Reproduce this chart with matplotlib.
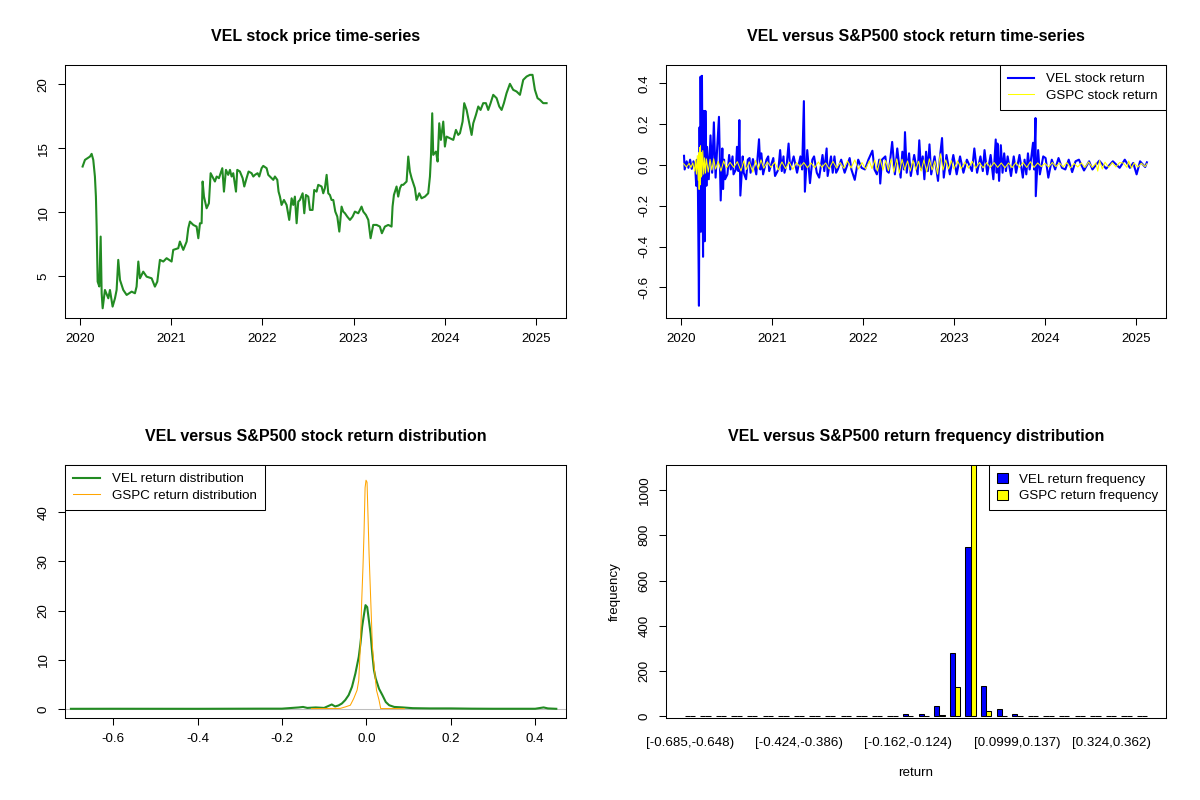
import numpy as np
import matplotlib
matplotlib.use('Agg')
import matplotlib.pyplot as plt
from matplotlib.patches import Patch

plt.rcParams['font.family'] = ['Liberation Sans', 'DejaVu Sans']
plt.rcParams['axes.unicode_minus'] = False
plt.rcParams['axes.linewidth'] = 0.75

# ---- VEL price (years since 2020, price) ----
price_t = [0.029, 0.055, 0.110, 0.128, 0.146, 0.164, 0.175, 0.183, 0.194, 0.212,
           0.227, 0.238, 0.249, 0.274, 0.311, 0.329, 0.358, 0.384, 0.402, 0.420,
           0.439, 0.475, 0.512, 0.567, 0.603, 0.621, 0.640, 0.658, 0.694, 0.731,
           0.786, 0.822, 0.848, 0.877, 0.914, 0.950, 1.005, 1.023, 1.078, 1.096,
           1.133, 1.170, 1.188, 1.206, 1.243, 1.279, 1.298, 1.316, 1.334, 1.345,
           1.360, 1.389, 1.414, 1.433, 1.462, 1.480, 1.499, 1.524, 1.542, 1.561,
           1.579, 1.601, 1.626, 1.645, 1.663, 1.681, 1.711, 1.725, 1.754, 1.784,
           1.802, 1.827, 1.849, 1.882, 1.901, 1.919, 1.948, 1.966, 1.992, 2.010,
           2.047, 2.065, 2.102, 2.120, 2.138, 2.164, 2.178, 2.193, 2.211, 2.237,
           2.266, 2.295, 2.321, 2.339, 2.357, 2.376, 2.394, 2.412, 2.442, 2.460,
           2.478, 2.504, 2.522, 2.551, 2.569, 2.595, 2.613, 2.650, 2.668, 2.686,
           2.705, 2.723, 2.741, 2.759, 2.778, 2.800, 2.822, 2.844, 2.869, 2.887,
           2.906, 2.931, 2.961, 2.990, 3.015, 3.052, 3.088, 3.107, 3.136, 3.162,
           3.187, 3.216, 3.253, 3.289, 3.311, 3.344, 3.381, 3.417, 3.428, 3.443,
           3.472, 3.490, 3.509, 3.527, 3.545, 3.582, 3.600, 3.618, 3.637, 3.655,
           3.673, 3.691, 3.721, 3.746, 3.783, 3.819, 3.838, 3.849, 3.863, 3.874,
           3.904, 3.922, 3.940, 3.958, 3.984, 4.002, 4.020, 4.057, 4.094, 4.123,
           4.148, 4.167, 4.196, 4.214, 4.240, 4.269, 4.295, 4.313, 4.342, 4.368,
           4.393, 4.422, 4.452, 4.477, 4.503, 4.532, 4.569, 4.598, 4.624, 4.649,
           4.678, 4.715, 4.751, 4.788, 4.825, 4.861, 4.898, 4.934, 4.963, 4.989,
           5.018, 5.044, 5.080, 5.117]
price_val = [13.57, 14.09, 14.35, 14.56, 14.09, 12.79, 11.22, 8.88, 4.58, 4.20,
             8.10, 3.67, 2.50, 3.93, 3.28, 3.93, 2.63, 3.28, 3.93, 6.28,
             4.71, 3.93, 3.54, 3.80, 3.67, 4.19, 6.15, 4.84, 5.36, 4.97,
             4.84, 4.19, 4.58, 6.28, 6.15, 6.41, 6.15, 7.06, 7.19, 7.71,
             7.06, 7.71, 8.75, 9.27, 9.01, 8.88, 7.97, 9.14, 9.14, 12.40,
             11.22, 10.31, 10.70, 13.05, 12.66, 12.40, 12.79, 12.66, 13.05, 13.44,
             11.61, 13.31, 12.92, 13.31, 12.79, 13.05, 11.61, 13.31, 13.18, 12.66,
             12.01, 12.66, 13.18, 13.05, 12.79, 12.92, 13.05, 12.79, 13.44, 13.62,
             13.44, 12.92, 12.66, 12.53, 12.79, 12.53, 11.61, 11.22, 10.57, 10.96,
             10.57, 9.40, 11.09, 10.57, 11.22, 9.14, 10.83, 10.96, 11.48, 9.92,
             11.35, 11.22, 10.18, 10.18, 11.74, 11.61, 12.14, 12.01, 11.48, 11.88,
             12.92, 11.48, 11.35, 10.96, 10.96, 10.05, 9.66, 8.49, 10.44, 10.05,
             9.92, 9.66, 9.40, 9.66, 10.05, 9.92, 10.44, 10.05, 9.79, 9.40,
             7.97, 9.01, 9.01, 8.88, 8.36, 8.88, 9.01, 8.88, 10.44, 11.35,
             12.01, 11.22, 11.88, 12.14, 12.14, 12.40, 14.35, 13.18, 12.66, 12.27,
             11.88, 10.96, 11.48, 11.09, 11.22, 11.48, 12.79, 14.35, 17.73, 14.48,
             14.74, 13.96, 16.95, 15.65, 17.08, 15.13, 15.91, 15.78, 15.65, 16.43,
             16.04, 16.17, 17.08, 18.52, 17.99, 16.95, 16.04, 16.95, 17.60, 18.26,
             17.99, 18.52, 18.52, 17.99, 18.52, 19.17, 18.91, 18.26, 17.99, 18.52,
             19.30, 20.03, 19.56, 19.43, 19.17, 20.34, 20.60, 20.73, 20.73, 19.56,
             18.91, 18.78, 18.52, 18.52]

# ---- VEL daily return (years since 2020, return) ----
vel_ret_t = [0.034, 0.041, 0.063, 0.082, 0.101, 0.119, 0.138, 0.157, 0.168, 0.179,
             0.187, 0.198, 0.205, 0.213, 0.216, 0.224, 0.231, 0.243, 0.250, 0.261,
             0.269, 0.280, 0.287, 0.306, 0.325, 0.343, 0.362, 0.381, 0.399, 0.418,
             0.437, 0.455, 0.463, 0.474, 0.485, 0.511, 0.530, 0.548, 0.567, 0.578,
             0.604, 0.616, 0.631, 0.642, 0.653, 0.679, 0.690, 0.716, 0.735, 0.754,
             0.765, 0.791, 0.828, 0.858, 0.873, 0.884, 0.903, 0.940, 0.959, 0.970,
             1.015, 1.034, 1.071, 1.090, 1.108, 1.127, 1.138, 1.164, 1.183, 1.201,
             1.239, 1.276, 1.313, 1.332, 1.351, 1.362, 1.388, 1.418, 1.444, 1.463,
             1.493, 1.519, 1.556, 1.575, 1.601, 1.612, 1.649, 1.668, 1.687, 1.705,
             1.724, 1.761, 1.799, 1.854, 1.873, 1.910, 1.948, 1.985, 2.022, 2.060,
             2.104, 2.127, 2.153, 2.179, 2.190, 2.209, 2.246, 2.265, 2.284, 2.321,
             2.351, 2.377, 2.414, 2.433, 2.451, 2.462, 2.481, 2.507, 2.526, 2.563,
             2.601, 2.619, 2.638, 2.657, 2.675, 2.694, 2.713, 2.731, 2.750, 2.787,
             2.825, 2.843, 2.869, 2.888, 2.918, 2.955, 2.993, 3.030, 3.067, 3.104,
             3.142, 3.198, 3.224, 3.254, 3.291, 3.317, 3.336, 3.366, 3.403, 3.433,
             3.459, 3.470, 3.478, 3.496, 3.515, 3.534, 3.552, 3.571, 3.590, 3.627,
             3.657, 3.683, 3.720, 3.757, 3.776, 3.795, 3.813, 3.832, 3.851, 3.869,
             3.881, 3.896, 3.899, 3.925, 3.944, 3.981, 4.007, 4.037, 4.075, 4.112,
             4.149, 4.187, 4.224, 4.261, 4.299, 4.336, 4.373, 4.429, 4.485, 4.522,
             4.597, 4.672, 4.746, 4.821, 4.877, 4.933, 4.970, 5.007, 5.045, 5.101,
             5.120]
vel_ret = [0.045, -0.022, 0.018, -0.014, 0.026, -0.019, 0.018, -0.010, -0.102, 0.026,
           -0.126, -0.690, 0.185, -0.326, 0.433, -0.326, 0.437, -0.450, 0.265, -0.374,
           0.265, -0.102, 0.089, -0.070, 0.145, -0.038, 0.209, -0.062, 0.089, 0.236,
           -0.174, 0.081, -0.118, 0.026, -0.070, -0.046, 0.049, -0.022, 0.042, -0.046,
           -0.022, 0.089, -0.030, 0.220, -0.150, 0.042, -0.038, -0.070, 0.026, 0.034,
           -0.038, 0.029, -0.046, 0.126, -0.022, 0.057, -0.046, 0.026, 0.042, -0.030,
           0.034, -0.054, -0.022, 0.073, -0.030, 0.042, -0.038, 0.010, 0.105, -0.022,
           0.042, -0.038, 0.042, -0.022, 0.313, -0.131, 0.073, -0.089, 0.026, 0.042,
           -0.038, -0.062, 0.049, -0.030, 0.081, -0.054, 0.042, -0.038, 0.042, -0.038,
           -0.022, 0.026, -0.038, 0.034, -0.022, -0.073, 0.026, -0.014, -0.022, 0.026,
           0.070, -0.022, -0.046, 0.026, -0.091, 0.026, 0.042, -0.030, -0.038, 0.113,
           -0.046, 0.081, -0.062, 0.065, -0.022, 0.161, -0.038, 0.057, -0.054, 0.049,
           -0.046, 0.121, -0.022, 0.042, -0.070, 0.065, -0.030, 0.101, -0.046, 0.042,
           -0.078, 0.026, 0.132, -0.062, 0.049, -0.046, 0.049, -0.046, 0.042, -0.038,
           0.026, -0.030, 0.081, -0.038, 0.042, -0.030, 0.073, -0.046, 0.049, -0.070,
           0.125, -0.038, 0.105, -0.078, 0.097, -0.038, 0.057, -0.030, 0.042, -0.054,
           0.042, -0.038, 0.049, -0.062, 0.026, -0.046, 0.057, -0.022, 0.042, 0.109,
           -0.022, 0.230, -0.153, 0.073, -0.046, 0.042, 0.034, -0.062, 0.026, -0.022,
           0.034, -0.014, -0.022, 0.026, -0.035, 0.018, 0.026, -0.027, 0.018, -0.022,
           0.021, -0.018, 0.018, -0.014, 0.026, -0.014, 0.010, -0.046, 0.018, -0.010,
           0.013]

# ---- S&P500 (GSPC) daily return ----
gspc_ret_t = [0.030, 0.060, 0.090, 0.110, 0.130, 0.150, 0.160, 0.170, 0.180, 0.190,
              0.195, 0.200, 0.205, 0.210, 0.215, 0.220, 0.225, 0.230, 0.240, 0.250,
              0.260, 0.270, 0.280, 0.300, 0.320, 0.340, 0.360, 0.380, 0.410, 0.440,
              0.470, 0.500, 0.540, 0.580, 0.620, 0.660, 0.690, 0.720, 0.750, 0.790,
              0.820, 0.850, 0.880, 0.910, 0.950, 0.990, 1.030, 1.070, 1.110, 1.150,
              1.190, 1.230, 1.270, 1.310, 1.350, 1.390, 1.430, 1.470, 1.510, 1.550,
              1.590, 1.630, 1.670, 1.710, 1.750, 1.790, 1.830, 1.870, 1.910, 1.950,
              1.990, 2.030, 2.070, 2.100, 2.130, 2.160, 2.190, 2.220, 2.250, 2.280,
              2.310, 2.340, 2.370, 2.400, 2.430, 2.460, 2.490, 2.520, 2.550, 2.580,
              2.610, 2.640, 2.670, 2.700, 2.730, 2.760, 2.790, 2.820, 2.850, 2.880,
              2.910, 2.940, 2.970, 3.000, 3.040, 3.080, 3.120, 3.160, 3.200, 3.240,
              3.280, 3.320, 3.360, 3.400, 3.440, 3.480, 3.520, 3.560, 3.600, 3.640,
              3.680, 3.720, 3.760, 3.800, 3.840, 3.880, 3.920, 3.960, 4.000, 4.040,
              4.080, 4.120, 4.160, 4.200, 4.240, 4.280, 4.320, 4.360, 4.400, 4.440,
              4.480, 4.520, 4.560, 4.580, 4.600, 4.630, 4.660, 4.700, 4.740, 4.780,
              4.820, 4.860, 4.900, 4.920, 4.950, 4.980, 5.020, 5.060, 5.100, 5.120]
gspc_ret = [0.006, -0.010, 0.008, -0.012, 0.010, -0.030, 0.025, -0.045, 0.046, -0.075,
            0.060, -0.120, 0.086, -0.098, 0.094, -0.060, 0.062, -0.052, 0.070, -0.045,
            0.035, -0.040, 0.030, -0.035, 0.028, -0.025, 0.030, -0.020, 0.018, -0.030,
            0.020, -0.015, 0.013, -0.012, 0.016, -0.030, 0.020, -0.022, 0.016, -0.035,
            0.022, -0.020, 0.025, -0.016, 0.015, -0.012, 0.014, -0.025, 0.015, -0.018,
            0.014, -0.022, 0.012, -0.010, 0.012, -0.014, 0.010, -0.014, 0.015, -0.012,
            0.010, -0.020, 0.018, -0.015, 0.012, -0.016, 0.020, -0.015, 0.025, -0.020,
            0.012, -0.020, 0.020, -0.018, 0.025, -0.030, 0.030, -0.025, 0.022, -0.028,
            0.030, -0.035, 0.030, -0.040, 0.028, -0.025, 0.020, -0.030, 0.022, -0.025,
            0.018, -0.030, 0.025, -0.035, 0.030, -0.025, 0.020, -0.045, 0.055, -0.025,
            0.025, -0.020, 0.022, -0.020, 0.020, -0.018, 0.015, -0.016, 0.018, -0.016,
            0.012, -0.014, 0.012, -0.013, 0.012, -0.012, 0.010, -0.014, 0.010, -0.013,
            0.012, -0.012, 0.012, -0.012, 0.016, -0.012, 0.010, -0.008, 0.008, -0.010,
            0.012, -0.008, 0.010, -0.010, 0.012, -0.015, 0.008, -0.010, 0.010, -0.012,
            0.015, -0.012, 0.010, -0.030, 0.022, -0.020, 0.014, -0.012, 0.012, -0.010,
            0.012, 0.010, -0.012, 0.020, -0.015, 0.010, -0.010, 0.008, -0.008, 0.006]

# ---- kernel densities of the returns ----
vel_dens_x = [-0.700, -0.600, -0.400, -0.250, -0.200, -0.160, -0.150, -0.140, -0.120, -0.100,
              -0.095, -0.082, -0.074, -0.066, -0.058, -0.050, -0.042, -0.034, -0.026, -0.018,
              -0.014, -0.010, -0.006, -0.002, 0.002, 0.006, 0.010, 0.014, 0.018, 0.022,
              0.030, 0.038, 0.046, 0.054, 0.066, 0.086, 0.110, 0.150, 0.200, 0.250,
              0.300, 0.400, 0.420, 0.430, 0.450]
vel_dens_y = [0.02, 0.03, 0.02, 0.05, 0.05, 0.30, 0.40, 0.20, 0.30, 0.20,
              0.40, 0.90, 0.50, 0.70, 1.10, 1.80, 2.80, 4.50, 7.20, 10.6,
              13.3, 16.7, 19.0, 21.1, 20.7, 18.0, 15.3, 11.2, 7.9, 6.2,
              4.1, 2.8, 1.4, 0.75, 0.40, 0.30, 0.15, 0.10, 0.10, 0.05,
              0.03, 0.03, 0.30, 0.10, 0.02]
gspc_dens_x = [-0.130, -0.062, -0.050, -0.038, -0.030, -0.022, -0.018, -0.014, -0.011, -0.008,
               -0.0056, -0.003, -0.0008, 0.0016, 0.004, 0.0064, 0.0104, 0.0144, 0.020, 0.024,
               0.030, 0.034, 0.062, 0.090]
gspc_dens_y = [0.07, 0.10, 0.40, 0.75, 2.1, 3.8, 5.8, 13.3, 22.0, 28.9,
               35.6, 45.0, 46.5, 46.1, 39.0, 31.6, 22.0, 12.6, 7.2, 3.8,
               1.8, 0.07, 0.07, 0.05]

# ---- frequency table (30 bins) ----
bin_edges = ["-0.685", "-0.648", "-0.61", "-0.573", "-0.536", "-0.498", "-0.461", "-0.424",
             "-0.386", "-0.349", "-0.311", "-0.274", "-0.237", "-0.199", "-0.162", "-0.124",
             "-0.0871", "-0.0497", "-0.0124", "0.025", "0.0624", "0.0999", "0.137", "0.175",
             "0.212", "0.249", "0.287", "0.324", "0.362", "0.399", "0.436"]
vel_counts = [1, 0, 0, 0, 0, 0, 1, 0, 1, 1,
              1, 0, 0, 2, 9, 9, 45, 280, 748, 136,
              34, 10, 2, 2, 2, 1, 1, 0, 0, 1]
gspc_counts = [0, 0, 0, 0, 0, 0, 0, 0, 0, 0,
               0, 0, 0, 0, 0, 2, 5, 130, 1118, 22,
               2, 0, 0, 0, 0, 0, 0, 0, 0, 0]
shown_bins = [0, 7, 14, 21, 27]

bin_labels = ["[%s,%s)" % (bin_edges[i], bin_edges[i + 1]) for i in range(len(vel_counts))]

TICK = 9.6
TITLE = 11.5


def r_axes(ax):
    """Base-R look: outward ticks, rotated y labels"""
    ax.tick_params(direction='out', length=5, width=0.75, pad=6, labelsize=TICK)
    ax.tick_params(axis='y', labelrotation=90)
    for lbl in ax.get_yticklabels():
        lbl.set_va('center')


def r_legend(ax, handles, labels, loc, **kw):
    opts = dict(handlelength=2.0, handletextpad=0.9, labelspacing=0.3, borderpad=0.6)
    opts.update(kw)
    leg = ax.legend(handles, labels, loc=loc, borderaxespad=0, fancybox=False,
                    edgecolor='black', framealpha=1, fontsize=TICK, **opts)
    leg.get_frame().set_linewidth(0.75)
    return leg


fig = plt.figure(figsize=(12, 8), dpi=100)
W, H = 1200.0, 800.0
ax1 = fig.add_axes([65 / W, 1 - 318 / H, 501 / W, 253 / H])
ax2 = fig.add_axes([666 / W, 1 - 318 / H, 500 / W, 253 / H])
ax3 = fig.add_axes([65 / W, 1 - 718 / H, 501 / W, 253 / H])
ax4 = fig.add_axes([666 / W, 1 - 718 / H, 500 / W, 253 / H])

years = [2020, 2021, 2022, 2023, 2024, 2025]

# price
ax1.plot(2020 + np.array(price_t), price_val, color='forestgreen', lw=1.5)
ax1.set_xlim(2019.836, 2025.33)
ax1.set_ylim(1.74, 21.5)
ax1.set_xticks(years)
ax1.set_yticks([5, 10, 15, 20])
ax1.set_title('VEL stock price time-series', fontsize=TITLE, fontweight='bold', pad=17)
r_axes(ax1)

# returns
l1, = ax2.plot(2020 + np.array(vel_ret_t), vel_ret, color='blue', lw=1.5)
l2, = ax2.plot(2020 + np.array(gspc_ret_t), gspc_ret, color='yellow', lw=0.75)
ax2.set_xlim(2019.836, 2025.33)
ax2.set_ylim(-0.75, 0.49)
ax2.set_xticks(years)
ax2.set_yticks([-0.6, -0.4, -0.2, 0.0, 0.2, 0.4])
ax2.set_yticklabels(['-0.6', '-0.4', '-0.2', '0.0', '0.2', '0.4'])
ax2.set_title('VEL versus S&P500 stock return time-series', fontsize=TITLE,
              fontweight='bold', pad=17)
r_axes(ax2)
r_legend(ax2, [l1, l2], ['VEL stock return', 'GSPC stock return'], 'upper right')

# densities
ax3.axhline(0, color='#BEBEBE', lw=0.75, zorder=1)
d1, = ax3.plot(vel_dens_x, vel_dens_y, color='forestgreen', lw=1.5, zorder=2)
d2, = ax3.plot(gspc_dens_x, gspc_dens_y, color='orange', lw=0.75, zorder=3)
ax3.set_xlim(-0.714, 0.473)
ax3.set_ylim(-1.85, 49.6)
ax3.set_xticks([-0.6, -0.4, -0.2, 0.0, 0.2, 0.4])
ax3.set_xticklabels(['-0.6', '-0.4', '-0.2', '0.0', '0.2', '0.4'])
ax3.set_yticks([0, 10, 20, 30, 40])
ax3.set_title('VEL versus S&P500 stock return distribution', fontsize=TITLE,
              fontweight='bold', pad=17)
r_axes(ax3)
r_legend(ax3, [d1, d2], ['VEL return distribution', 'GSPC return distribution'], 'upper left')

# grouped frequency bars
grp = np.arange(len(vel_counts)) * 3
ax4.bar(grp + 1.5, vel_counts, width=1.0, color='blue', edgecolor='black', lw=0.75)
ax4.bar(grp + 2.5, gspc_counts, width=1.0, color='yellow', edgecolor='black', lw=0.75)
ax4.set_xlim(-2.56, 93.56)
ax4.set_ylim(-7, 1110)
ax4.set_yticks([0, 200, 400, 600, 800, 1000])
ax4.set_xticks(grp[shown_bins] + 2)
ax4.set_xticklabels([bin_labels[i] for i in shown_bins])
ax4.set_title('VEL versus S&P500 return frequency distribution', fontsize=TITLE,
              fontweight='bold', pad=17)
r_axes(ax4)
ax4.tick_params(axis='x', length=0, pad=14)
ax4.set_xlabel('return', fontsize=TICK, labelpad=13)
ax4.set_ylabel('frequency', fontsize=TICK, labelpad=13)
r_legend(ax4, [Patch(facecolor='blue', edgecolor='black', lw=0.75),
               Patch(facecolor='yellow', edgecolor='black', lw=0.75)],
         ['VEL return frequency', 'GSPC return frequency'], 'upper right',
         handlelength=0.8, handleheight=0.8, handletextpad=0.8)

fig.savefig('out.png', dpi=100)
